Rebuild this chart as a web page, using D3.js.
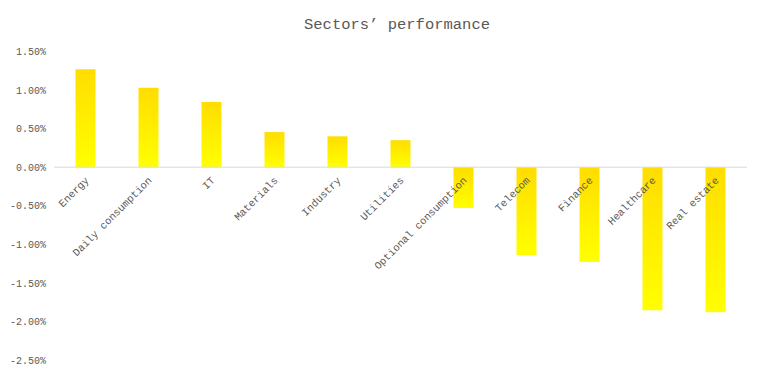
<!DOCTYPE html>
<html>
<head>
<meta charset="utf-8">
<script src="https://cdn.jsdelivr.net/npm/d3@7"></script>
<style>
  body { margin: 0; background: #fff; }
  text { font-family: "Liberation Mono", "DejaVu Sans Mono", monospace; }
</style>
</head>
<body>
<script>
var sectors = ["Energy", "Daily consumption", "IT", "Materials", "Industry", "Utilities",
               "Optional consumption", "Telecom", "Finance", "Healthcare", "Real estate"];
var perf = [1.27, 1.03, 0.845, 0.455, 0.40, 0.35, -0.53, -1.14, -1.23, -1.855, -1.88];
var yTicks = [1.5, 1.0, 0.5, 0, -0.5, -1.0, -1.5, -2.0, -2.5];

var screen = {width: 762, height: 375};
var margin = {left: 54, right: 15, top: 51.5, bottom: 15};

var svg = d3.select("body")
            .append("svg")
            .attr("width", screen.width)
            .attr("height", screen.height);

var grad = svg.append("defs").append("linearGradient")
              .attr("id", "barFill")
              .attr("x1", 0).attr("y1", 0).attr("x2", 0).attr("y2", 1);
grad.append("stop").attr("offset", "0%").attr("stop-color", "#ffdd00");
grad.append("stop").attr("offset", "100%").attr("stop-color", "#ffff00");

var x = d3.scaleBand()
          .domain(sectors)
          .range([margin.left, 747]);

var y = d3.scaleLinear()
          .domain([-2.5, 1.5])
          .range([360, margin.top]);

// title
svg.append("text")
   .attr("x", 397)
   .attr("y", 29)
   .attr("text-anchor", "middle")
   .attr("font-size", "15.5px")
   .attr("fill", "#595959")
   .text("Sectors’ performance");

// y axis labels only
var yAxis = d3.axisLeft(y)
              .tickValues(yTicks)
              .tickSize(0)
              .tickPadding(0)
              .tickFormat(function(d) { return d3.format(".2f")(d).replace("−", "-") + "%"; });

var yg = svg.append("g")
            .attr("transform", "translate(46,0)")
            .call(yAxis);
yg.select(".domain").remove();
yg.selectAll("text")
  .attr("font-family", "Liberation Mono, DejaVu Sans Mono, monospace")
  .attr("font-size", "10px")
  .attr("fill", "#595959");

// bars
svg.append("g")
   .selectAll("rect")
   .data(perf)
   .enter()
   .append("rect")
   .attr("x", function(d, i) { return x(sectors[i]) + x.bandwidth() / 2 - 10; })
   .attr("y", function(d) { return y(Math.max(0, d)); })
   .attr("width", 20)
   .attr("height", function(d) { return Math.abs(y(d) - y(0)); })
   .attr("fill", "url(#barFill)");

// zero line
svg.append("line")
   .attr("x1", margin.left)
   .attr("x2", 747)
   .attr("y1", y(0))
   .attr("y2", y(0))
   .attr("stroke", "#d9d9d9")
   .attr("stroke-width", 1);

// category labels
svg.append("g")
   .selectAll("text")
   .data(sectors)
   .enter()
   .append("text")
   .attr("transform", function(d) {
     return "translate(" + (x(d) + x.bandwidth() / 2 + 4) + "," + 181 + ") rotate(-45)";
   })
   .attr("text-anchor", "end")
   .attr("font-size", "10.5px")
   .attr("fill", "#595959")
   .text(function(d) { return d; });
</script>
</body>
</html>
